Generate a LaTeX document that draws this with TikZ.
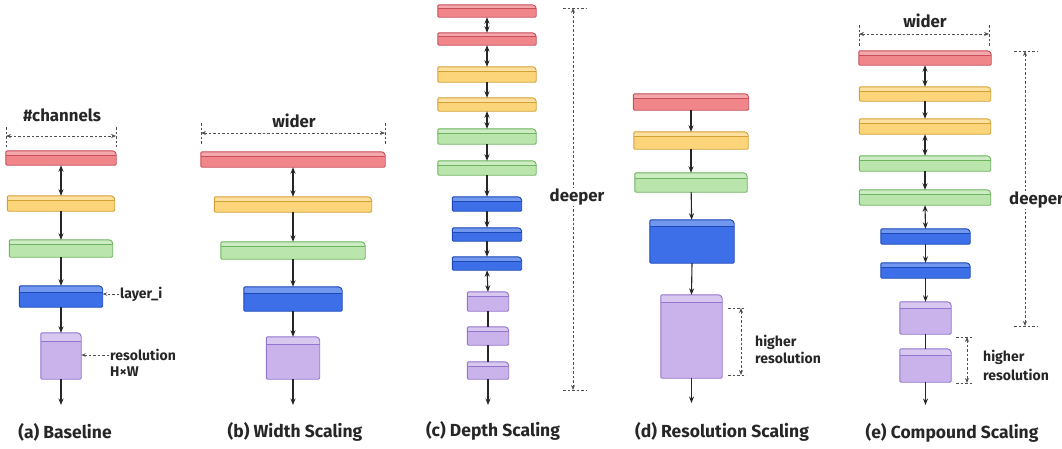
\documentclass[tikz,border=0pt]{standalone}
\usepackage{fontspec}
\setmainfont{Fira Sans}
\definecolor{redF}{HTML}{F0868A}
\definecolor{redE}{HTML}{C84E5C}
\definecolor{yelF}{HTML}{FCD479}
\definecolor{yelE}{HTML}{D2A134}
\definecolor{grnF}{HTML}{BAE5AC}
\definecolor{grnE}{HTML}{6CB460}
\definecolor{bluF}{HTML}{3C6FE8}
\definecolor{bluE}{HTML}{1C48B8}
\definecolor{purF}{HTML}{C9B3EA}
\definecolor{purE}{HTML}{9474CC}
\definecolor{ink}{HTML}{262626}
\definecolor{dim}{HTML}{505050}
\usetikzlibrary{arrows.meta, positioning}

% block with chamfered top-right corner and a top face: node, colour, face depth
\newcommand{\layerbox}[3]{%
  \fill[#2F, rounded corners=1.2pt] (#1.south west) -- (#1.north west)
    -- ([xshift=-2.5pt]#1.north east) -- ([yshift=-2.5pt]#1.north east)
    -- (#1.south east) -- cycle;
  \fill[#2F!72!white, rounded corners=1.2pt] (#1.north west)
    -- ([xshift=-2.5pt]#1.north east) -- ([yshift=-2.5pt]#1.north east)
    -- ([yshift=-#3]#1.north east) -- ([yshift=-#3]#1.north west) -- cycle;
  \draw[#2E, line width=0.7pt] ([yshift=-#3]#1.north west) -- ([yshift=-#3]#1.north east);
  \draw[#2E, line width=0.9pt, rounded corners=1.2pt] (#1.south west) -- (#1.north west)
    -- ([xshift=-2.5pt]#1.north east) -- ([yshift=-2.5pt]#1.north east)
    -- (#1.south east) -- cycle;}

\begin{document}
\begin{tikzpicture}[x=1pt, y=-1pt,
  layer/.style={rectangle, inner sep=0pt},
  flow/.style={-{Stealth[length=6.5pt,width=5pt]}, ink, line width=1.1pt},
  both/.style={{Stealth[length=6.5pt,width=5pt]}-{Stealth[length=6.5pt,width=5pt]}, ink, line width=1.1pt},
  link/.style={ink, line width=1.1pt},
  dimline/.style={dim, line width=0.8pt, dash pattern=on 2.5pt off 2pt},
  dimarrow/.style={dimline, {Stealth[length=5pt,width=4pt]}-{Stealth[length=5pt,width=4pt]}},
  pointer/.style={dimline, -{Stealth[length=4.5pt,width=3.5pt]}},
  note/.style={font=\fontsize{14}{16}\selectfont\bfseries, text=ink, inner sep=1pt},
  dimtext/.style={font=\fontsize{16.8}{19}\selectfont\bfseries, text=ink, inner sep=1pt},
  caption/.style={font=\fontsize{17.5}{20}\selectfont\bfseries, text=ink},
]
\useasboundingbox (0,0) rectangle (1062,448);

% (a) baseline
\node[layer, minimum width=110pt, minimum height=14pt] (a1) at (61,158) {};
\node[layer, minimum width=107pt, minimum height=15pt] (a2) at (61,203.5) {};
\node[layer, minimum width=103pt, minimum height=17pt] (a3) at (61,248.5) {};
\node[layer, minimum width=83pt, minimum height=21pt] (a4) at (61,296.5) {};
\node[layer, minimum width=40pt, minimum height=46pt] (a5) at (61,356) {};
\foreach \n/\c/\f in {a1/red/5pt, a2/yel/5pt, a3/grn/5pt, a4/blu/7pt, a5/pur/9pt}
  {\layerbox{\n}{\c}{\f}}
\coordinate (a0) at (61,405);
\draw[both] (a1) -- (a2);
\draw[flow] (a2) -- (a3);
\draw[flow] (a3) -- (a4);
\draw[flow] (a4) -- (a5);
\draw[flow] (a5) -- (a0);
\node[dimtext] (chan) at (62,115) {\#channels};
\coordinate (awl) at (6,136);
\coordinate (awr) at (116,136);
\draw[dimline] (6,127) -- (6,147);
\draw[dimline] (116,127) -- (116,147);
\draw[dimarrow] (awl) -- (awr);
\node[note, anchor=west] (lay) at (119,294) {layer\_i};
\draw[pointer] (lay.west) -- (lay.west -| a4.east);
\node[note, anchor=west] (res) at (109,355) {resolution};
\node[note, anchor=west] (hw) at (109,372) {H×W};
\draw[pointer] (res.west) -- (res.west -| a5.east);
\node[caption] (capa) at (65,432) {(a) Baseline};

% (b) width scaling
\node[layer, minimum width=184pt, minimum height=15pt] (b1) at (293,159.5) {};
\node[layer, minimum width=157pt, minimum height=15pt] (b2) at (293,204.5) {};
\node[layer, minimum width=144pt, minimum height=17pt] (b3) at (293,250.5) {};
\node[layer, minimum width=98pt, minimum height=24pt] (b4) at (293,299) {};
\node[layer, minimum width=53pt, minimum height=42pt] (b5) at (293,358) {};
\foreach \n/\c/\f in {b1/red/5pt, b2/yel/5pt, b3/grn/5pt, b4/blu/7pt, b5/pur/8pt}
  {\layerbox{\n}{\c}{\f}}
\coordinate (b0) at (293,405);
\draw[both] (b1) -- (b2);
\draw[flow] (b2) -- (b3);
\draw[flow] (b3) -- (b4);
\draw[flow] (b4) -- (b5);
\draw[flow] (b5) -- (b0);
\node[dimtext] (bwide) at (294,121) {wider};
\coordinate (bwl) at (201,133);
\coordinate (bwr) at (385,133);
\draw[dimline] (201,123) -- (201,145);
\draw[dimline] (385,123) -- (385,145);
\draw[dimarrow] (bwl) -- (bwr);
\node[caption] (capb) at (295,432) {(b) Width Scaling};

% (c) depth scaling
\node[layer, minimum width=98pt, minimum height=12pt] (c1) at (487,11) {};
\node[layer, minimum width=98pt, minimum height=12pt] (c2) at (487,39) {};
\node[layer, minimum width=98pt, minimum height=15pt] (c3) at (487,74.5) {};
\node[layer, minimum width=98pt, minimum height=13pt] (c4) at (487,104.5) {};
\node[layer, minimum width=98pt, minimum height=15pt] (c5) at (487,136.5) {};
\node[layer, minimum width=98pt, minimum height=14pt] (c6) at (487,168) {};
\node[layer, minimum width=69pt, minimum height=14pt] (c7) at (487,204) {};
\node[layer, minimum width=69pt, minimum height=13pt] (c8) at (487,234.5) {};
\node[layer, minimum width=69pt, minimum height=13pt] (c9) at (487,263.5) {};
\node[layer, minimum width=41pt, minimum height=19pt] (c10) at (488,301.5) {};
\node[layer, minimum width=41pt, minimum height=18pt] (c11) at (488,336) {};
\node[layer, minimum width=41pt, minimum height=17pt] (c12) at (488,370.5) {};
\foreach \n/\c/\f in {c1/red/4pt, c2/red/4pt, c3/yel/5pt, c4/yel/5pt, c5/grn/5pt, c6/grn/5pt,
                      c7/blu/5pt, c8/blu/5pt, c9/blu/5pt, c10/pur/5pt, c11/pur/5pt, c12/pur/5pt}
  {\layerbox{\n}{\c}{\f}}
\coordinate (c0) at (488,405);
\draw[both] (c1) -- (c2);
\draw[both] (c2) -- (c3);
\draw[flow] (c3) -- (c4);
\draw[both] (c4) -- (c5);
\draw[flow] (c5) -- (c6);
\draw[flow] (c6) -- (c7);
\draw[flow] (c7) -- (c8);
\draw[flow] (c8) -- (c9);
\draw[both] (c9.south) -- (c10.north);
\draw[link] (c10) -- (c11);
\draw[link] (c11) -- (c12);
\draw[flow] (c12) -- (c0);
\coordinate (cdt) at (573,8);
\coordinate (cdb) at (573,390);
\draw[dimline] (563,8) -- (586,8);
\draw[dimline] (563,390) -- (586,390);
\draw[dimarrow] (cdt) -- (cdb);
\node[dimtext, fill=white] (cdeep) at (577,197) {deeper};
\node[caption] (capc) at (493,431) {(c) Depth Scaling};

% (d) resolution scaling
\node[layer, minimum width=115pt, minimum height=16pt] (d1) at (691,102) {};
\node[layer, minimum width=114pt, minimum height=17pt] (d2) at (691,140.5) {};
\node[layer, minimum width=112pt, minimum height=19pt] (d3) at (691,182.5) {};
\node[layer, minimum width=84pt, minimum height=43pt] (d4) at (692,241.5) {};
\node[layer, minimum width=61pt, minimum height=83pt] (d5) at (691.5,336.5) {};
\foreach \n/\c/\f in {d1/red/5pt, d2/yel/5pt, d3/grn/6pt, d4/blu/7pt, d5/pur/8pt}
  {\layerbox{\n}{\c}{\f}}
\coordinate (d0) at (691.5,403);
\draw[flow] (d1) -- (d2);
\draw[flow] (d2) -- (d3);
\draw[flow] (d3) -- (d4);
\draw[flow] (d4.south) -- (d5.north);
\draw[flow] (d5) -- (d0);
\coordinate (dht) at (741,308);
\coordinate (dhb) at (741,375);
\draw[dimline] (728,308) -- (746,308);
\draw[dimline] (728,375) -- (746,375);
\draw[dimarrow] (dht) -- (dhb);
\node[note, anchor=west] (dhigh) at (754,342) {higher};
\node[note, anchor=west] (dres) at (754,358) {resolution};
\node[caption] (capd) at (722,432) {(d) Resolution Scaling};

% (e) compound scaling
\node[layer, minimum width=132pt, minimum height=14pt] (e1) at (925,58) {};
\node[layer, minimum width=131pt, minimum height=14pt] (e2) at (925,94) {};
\node[layer, minimum width=131pt, minimum height=15pt] (e3) at (925,126.5) {};
\node[layer, minimum width=131pt, minimum height=15pt] (e4) at (925,163.5) {};
\node[layer, minimum width=131pt, minimum height=15pt] (e5) at (925,197.5) {};
\node[layer, minimum width=89pt, minimum height=15pt] (e6) at (925.5,236.5) {};
\node[layer, minimum width=89pt, minimum height=15pt] (e7) at (925.5,270.5) {};
\node[layer, minimum width=51pt, minimum height=32pt] (e8) at (925.5,318) {};
\node[layer, minimum width=51pt, minimum height=33pt] (e9) at (925.5,365.5) {};
\foreach \n/\c/\f in {e1/red/5pt, e2/yel/5pt, e3/yel/5pt, e4/grn/5pt, e5/grn/5pt,
                      e6/blu/5pt, e7/blu/5pt, e8/pur/7pt, e9/pur/7pt}
  {\layerbox{\n}{\c}{\f}}
\coordinate (e0) at (925.5,405);
\draw[both] (e1) -- (e2);
\draw[flow] (e2) -- (e3);
\draw[both] (e3) -- (e4);
\draw[flow] (e4) -- (e5);
\draw[both] (e5.south) -- (e6.north);
\draw[flow] (e6) -- (e7);
\draw[flow] (e7.south) -- (e8.north);
\draw[link] (e8) -- (e9);
\draw[flow] (e9) -- (e0);
\node[dimtext] (ewide) at (925,21) {wider};
\coordinate (ewl) at (859,34);
\coordinate (ewr) at (989,34);
\draw[dimline] (859,25) -- (859,46);
\draw[dimline] (989,25) -- (989,46);
\draw[dimarrow] (ewl) -- (ewr);
\coordinate (edt) at (1025,51);
\coordinate (edb) at (1025,326);
\draw[dimline] (1014,51) -- (1037,51);
\draw[dimline] (1014,326) -- (1037,326);
\draw[dimarrow] (edt) -- (edb);
\node[dimtext, fill=white, anchor=west] (edeep) at (1008,200) {deeper};
\coordinate (eht) at (967,337);
\coordinate (ehb) at (967,383);
\draw[dimline] (956,337) -- (973,337);
\draw[dimline] (956,383) -- (973,383);
\draw[dimarrow] (eht) -- (ehb);
\node[note, anchor=west] (ehigh) at (982,357) {higher};
\node[note, anchor=west] (eres) at (982,375) {resolution};
\node[caption] (cape) at (952,433) {(e) Compound Scaling};
\end{tikzpicture}
\end{document}
